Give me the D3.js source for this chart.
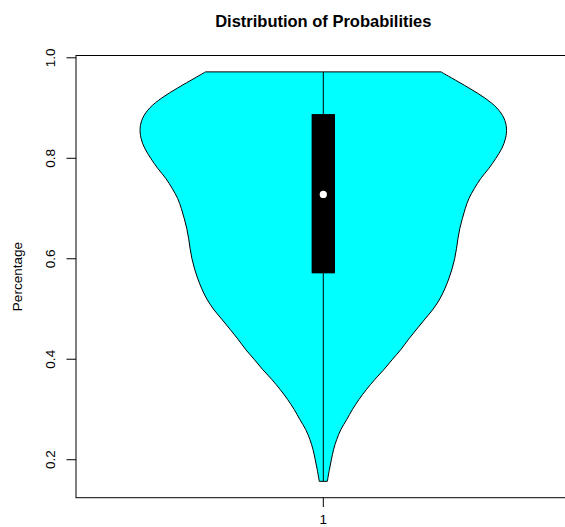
<!DOCTYPE html>
<html>
<head>
<meta charset="utf-8">
<script src="https://cdn.jsdelivr.net/npm/d3@7"></script>
<style>
  html, body { margin: 0; background: #fff; overflow: hidden; }
  svg { display: block; font-family: "Liberation Sans", Arial, sans-serif; }
</style>
</head>
<body>
<svg id="chart" width="565" height="527"></svg>
<script>
// estimated kernel density of the probabilities (relative, max = 1)
const probs = [0.157, 0.18, 0.20, 0.22, 0.24, 0.26, 0.28, 0.30, 0.32, 0.34, 0.36, 0.38,
  0.40, 0.42, 0.44, 0.46, 0.48, 0.50, 0.52, 0.54, 0.56, 0.58, 0.60, 0.62, 0.64, 0.66,
  0.68, 0.70, 0.72, 0.74, 0.76, 0.78, 0.80, 0.82, 0.84, 0.86, 0.88, 0.90, 0.92, 0.94,
  0.96, 0.972];
const density = [0.022, 0.033, 0.044, 0.056, 0.073, 0.096, 0.128, 0.159, 0.195, 0.236,
  0.282, 0.332, 0.378, 0.425, 0.466, 0.510, 0.555, 0.600, 0.636, 0.663, 0.685, 0.703,
  0.717, 0.727, 0.735, 0.745, 0.759, 0.775, 0.795, 0.825, 0.860, 0.904, 0.942, 0.975,
  0.995, 1.000, 0.986, 0.948, 0.882, 0.795, 0.700, 0.643];

// summary stats
const minVal = 0.157, q1 = 0.571, median = 0.728, q3 = 0.888, maxVal = 0.972;
const yTicks = [0.2, 0.4, 0.6, 0.8, 1.0];
const xTicks = [1];

const svg = d3.select("#chart");

// R style: data range padded by 4%
const yPad = (maxVal - minVal) * 0.04;
const x = d3.scaleLinear().domain([0.46, 1.54]).range([76, 570.6]);
const y = d3.scaleLinear().domain([minVal - yPad, maxVal + yPad]).range([497.7, 55.5]);

const wex = 0.4;  // max half width in x units
const w = d3.scaleLinear().domain([0, d3.max(density)]).range([0, wex]);

const pts = probs.map((p, i) => ({ p: p, d: density[i] }));

// violin
svg.append("path")
  .datum(pts)
  .attr("fill", "#00ffff")
  .attr("stroke", "#000")
  .attr("stroke-width", 1)
  .attr("d", d3.area()
    .curve(d3.curveCatmullRom)
    .y(d => y(d.p))
    .x0(d => x(1 - w(d.d)))
    .x1(d => x(1 + w(d.d))));

// whisker line min..max
svg.append("line")
  .attr("x1", x(1)).attr("x2", x(1))
  .attr("y1", y(minVal)).attr("y2", y(maxVal))
  .attr("stroke", "#000").attr("stroke-width", 1);

// box q1..q3
svg.append("rect")
  .attr("x", x(1 - 0.0255))
  .attr("width", x(1 + 0.0255) - x(1 - 0.0255))
  .attr("y", y(q3))
  .attr("height", y(q1) - y(q3))
  .attr("fill", "#000");

// median
svg.append("circle")
  .attr("cx", x(1)).attr("cy", y(median))
  .attr("r", 3.6)
  .attr("fill", "#fff");

// frame
svg.append("rect")
  .attr("x", x.range()[0]).attr("y", y.range()[1])
  .attr("width", x.range()[1] - x.range()[0])
  .attr("height", y.range()[0] - y.range()[1])
  .attr("fill", "none")
  .attr("stroke", "#000");

// y axis
const yAxis = svg.append("g");
yAxis.selectAll("line")
  .data(yTicks)
  .join("line")
  .attr("x1", 66.5).attr("x2", 76)
  .attr("y1", d => y(d)).attr("y2", d => y(d))
  .attr("stroke", "#000");
yAxis.selectAll("text")
  .data(yTicks)
  .join("text")
  .attr("transform", d => `translate(55,${y(d)}) rotate(-90)`)
  .attr("text-anchor", "middle")
  .attr("font-size", "13.5px")
  .text(d => d3.format(".1f")(d));

// x axis
svg.selectAll(".xtick")
  .data(xTicks)
  .join("line")
  .attr("class", "xtick")
  .attr("x1", d => x(d)).attr("x2", d => x(d))
  .attr("y1", 497.7).attr("y2", 507)
  .attr("stroke", "#000");
svg.selectAll(".xlab")
  .data(xTicks)
  .join("text")
  .attr("class", "xlab")
  .attr("x", d => x(d))
  .attr("y", 523.5)
  .attr("text-anchor", "middle")
  .attr("font-size", "13.5px")
  .text(d => d);

// y label
svg.append("text")
  .attr("transform", `translate(22,${(y.range()[0] + y.range()[1]) / 2}) rotate(-90)`)
  .attr("text-anchor", "middle")
  .attr("font-size", "13.5px")
  .text("Percentage");

// title
svg.append("text")
  .attr("x", x(1))
  .attr("y", 26.5)
  .attr("text-anchor", "middle")
  .attr("font-size", "16.5px")
  .attr("font-weight", "bold")
  .text("Distribution of Probabilities");
</script>
</body>
</html>
